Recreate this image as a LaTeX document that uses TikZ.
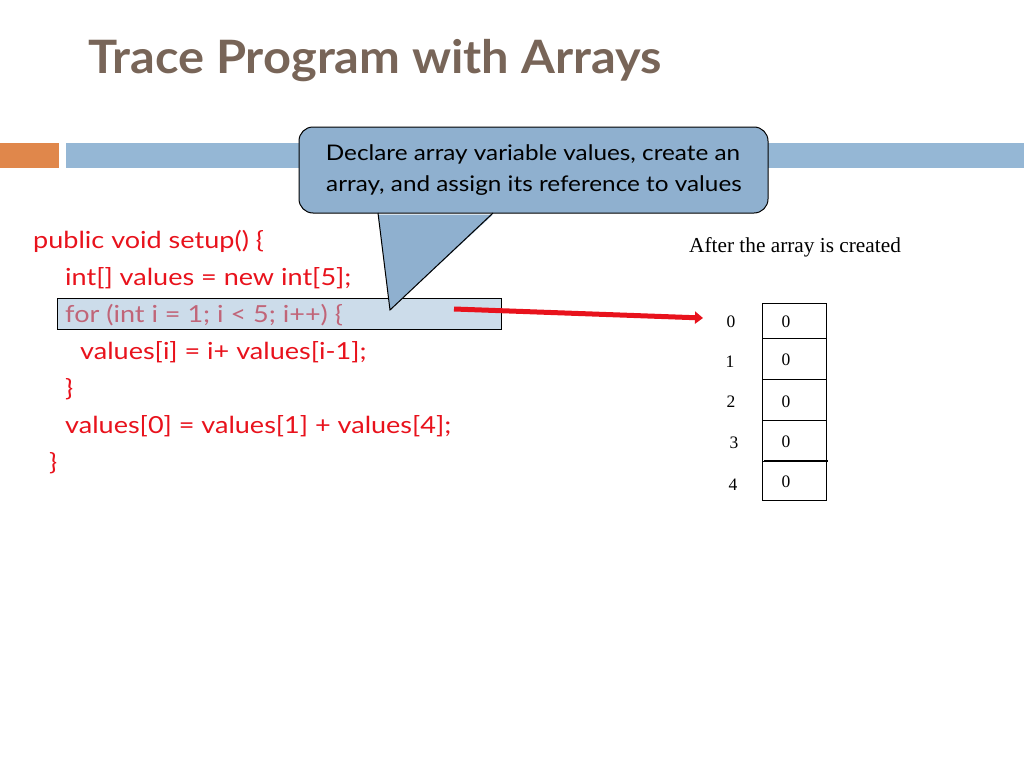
\documentclass[tikz,border=0pt]{standalone}
\usepackage{fontspec}
\usetikzlibrary{arrows.meta}
\setmainfont{Liberation Serif}
\newfontfamily\gill[FakeStretch=1.15]{Lato}
\newfontfamily\gillc[FakeStretch=1.13]{Lato}
\newfontfamily\gillb[FakeStretch=1.06]{Lato Bold}
\definecolor{titlec}{RGB}{120,101,88}
\definecolor{orangebar}{RGB}{224,135,75}
\definecolor{bluebar}{RGB}{149,183,213}
\definecolor{calloutc}{RGB}{143,176,207}
\definecolor{codered}{RGB}{232,18,28}
\definecolor{hlfill}{RGB}{154,185,213}
\begin{document}
\begin{tikzpicture}[x=1pt,y=-1pt,
  code/.style={anchor=base west,inner sep=0pt,text=codered,font=\gill\fontsize{23.5}{27}\selectfont},
  calltext/.style={anchor=base,inner sep=0pt,font=\gillc\fontsize{21.5}{25}\selectfont},
  cell/.style={draw,line width=1.2pt,minimum width=64pt,anchor=north west,inner sep=0pt},
  digit/.style={anchor=base,inner sep=0pt,font=\fontsize{17.5}{20}\selectfont}]
\useasboundingbox (0,0) rectangle (1024,768);
% title
\node[anchor=base west,inner sep=0pt,text=titlec,font=\gillb\fontsize{46}{54}\selectfont] (title) at (88,73) {Trace Program with Arrays};
% bars
\fill[orangebar] (0,143) rectangle (59,168);
\fill[bluebar] (66,143) rectangle (1024,168);
% code
\node[code] (l1) at (33,248) {public void setup() \{};
\node[code] (l2) at (65,285) {int[] values = new int[5];};
\node[code] (l3) at (65,322) {for (int i = 1; i < 5; i++) \{};
\node[code] (l4) at (80,359) {values[i] = i+ values[i-1];};
\node[code] (l5) at (65,396) {\}};
\node[code] (l6) at (65,433) {values[0] = values[1] + values[4];};
\node[code] (l7) at (49,470) {\}};
% highlight
\node[draw=black,line width=1pt,fill=hlfill,fill opacity=0.5,minimum width=444pt,minimum height=31pt,anchor=north west,inner sep=0pt] (hl) at (57,298) {};
% callout
\filldraw[fill=calloutc,draw=black,line width=1pt,rounded corners=14pt]
  (299,127) rectangle (768,213);
\coordinate (pl) at (378,213);
\coordinate (pr) at (493,213);
\coordinate (tip) at (390,310);
\fill[calloutc] ([yshift=-1.5pt]pl) -- (tip) -- ([yshift=-1.5pt]pr) -- cycle;
\draw[line width=1pt,line join=miter] (pl) -- (tip) -- (pr);
\node[calltext] (c1) at (533,160) {Declare array variable values, create an};
\node[calltext] (c2) at (534,191) {array, and assign its reference to values};
% caption
\node[anchor=base west,inner sep=0pt,font=\fontsize{21.3}{25}\selectfont] (cap) at (689,252) {After the array is created};
% array
\node[cell,minimum height=35pt] (a0) at (762,303) {};
\node[cell,minimum height=41pt] (a1) at (762,338) {};
\node[cell,minimum height=41pt] (a2) at (762,379) {};
\node[cell,minimum height=41pt] (a3) at (762,420) {};
\node[cell,minimum height=39pt] (a4) at (762,461) {};
\draw[line width=1.2pt] (764,461) -- (828,461);
\node[digit] (v0) at (786,327) {0};
\node[digit] (v1) at (786,365) {0};
\node[digit] (v2) at (786,407) {0};
\node[digit] (v3) at (786,447) {0};
\node[digit] (v4) at (786,487) {0};
\node[digit] (i0) at (731,327) {0};
\node[digit] (i1) at (730,367) {1};
\node[digit] (i2) at (731,407) {2};
\node[digit] (i3) at (734,448) {3};
\node[digit] (i4) at (733,490) {4};
% arrow
\coordinate (as) at (454,309);
\coordinate (ae) at (703,318);
\draw[codered,line width=5pt,-{Triangle[length=8pt,width=12pt]}] (as) -- (ae);
\end{tikzpicture}
\end{document}
